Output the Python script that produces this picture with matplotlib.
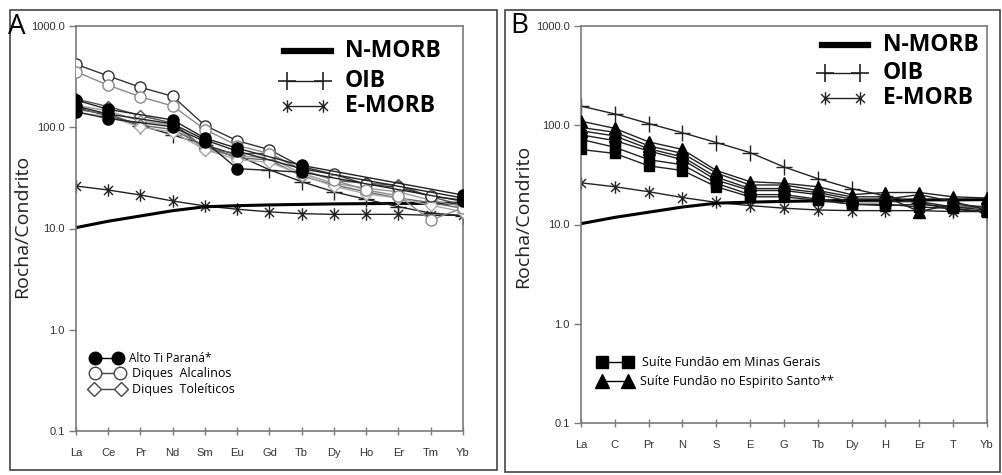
import numpy as np
import matplotlib
matplotlib.use("Agg")
import matplotlib.pyplot as plt
from matplotlib.path import Path
from matplotlib.patches import Rectangle
from matplotlib.lines import Line2D

# ---------------------------------------------------------------- data
ree_a = ["La", "Ce", "Pr", "Nd", "Sm", "Eu", "Gd", "Tb", "Dy", "Ho", "Er", "Tm", "Yb"]
ree_b = ["La", "C", "Pr", "N", "S", "E", "G", "Tb", "Dy", "H", "Er", "T", "Yb"]

n_morb = [10.2, 11.8, 13.3, 15.0, 16.4, 16.8, 17.1, 17.3, 17.5, 17.6, 17.7, 17.7, 17.8]
oib = [156, 130, 104, 84, 67, 53, 38, 29, 23, 19.4, 16.4, 14.2, 13.4]
e_morb = [26.3, 24.0, 21.4, 18.7, 16.7, 15.5, 14.6, 14.0, 13.8, 13.8, 13.8, 13.5, 13.5]

nan = np.nan
alto_ti_parana = [
    [186, 150, nan, 118, 78, 62, nan, 42, nan, nan, nan, nan, 21.4],
    [162, 135, nan, 108, 75, 58, nan, 39, nan, nan, nan, nan, 20.0],
    [142, 122, nan, 101, 72, 39, nan, 36, nan, nan, nan, nan, 18.6],
]
diques_alcalinos = [
    [419, 321, 248, 202, 104, 73.6, 60, 40.8, 34.3, 27.3, 25.5, 20.8, 19.1],
    [354, 260, 200, 162, 95, 66, 55, 38, 30, 24, 21, 12.1, 16.0],
]
diques_toleiticos = [
    [190, 160, 130, 110, 62, 55, 55, 38, 30, 27.9, 26.9, 20.6, 17.0],
    [165, 145, 115, 105, 60, 52, 50, 35, 28, 25, 23, 19, 16.5],
    [150, 135, 105, 95, 65, 50, 47.5, 33, 27, 23, 20, 18, 15.8],
    [140, 128, 100, 90, 60, 48, 45, 34, 26, 22, 19.9, 17, 14.6],
]

suite_minas_gerais = [
    [80, 70, 55, 45, 28, 22, 22, 20, 17, 17, 17, 15, 14],
    [72, 60, 45, 40, 26, 20, 20, 18, 16, 16, 15, 14.5, 13.5],
    [57, 52, 39, 35, 24, 19, 19, 17.5, 16, 15.5, 16, 15, 15],
]
suite_espirito_santo = [
    [110, 93, 68, 57, 35, 27, 26, 24, 20, 21, 21, 19, 18.5],
    [95, 85, 62, 52, 33, 25, 25, 22, 19, 19, 13.5, 16, 15],
    [88, 78, 58, 48, 30, 23, 23, 21, 18, 18, 20, 17, 14],
]

legend_main = ["N-MORB", "OIB", "E-MORB"]
legend_a = ["Alto Ti Paraná*", "Diques  Alcalinos", "Diques  Toleíticos"]
legend_b = ["Suíte Fundão em Minas Gerais", "Suíte Fundão no Espirito Santo**"]
y_ticks = [0.1, 1, 10, 100, 1000]

# ---------------------------------------------------------------- styles
W, H = 1003, 475
fig = plt.figure(figsize=(W / 100, H / 100), dpi=100)
fig.patch.set_facecolor("white")

SPINE = "#7a7a7a"
TXT = "#333333"
SANS = ["Open Sans", "DejaVu Sans"]
ARIAL = ["Liberation Sans", "DejaVu Sans"]

# asterisk-like star: an X crossed by a vertical bar
star = Path([(0, -1), (0, 1), (-0.72, -0.72), (0.72, 0.72), (-0.72, 0.72), (0.72, -0.72)],
            [Path.MOVETO, Path.LINETO, Path.MOVETO, Path.LINETO, Path.MOVETO, Path.LINETO])


def fx(x):
    return x / W


def fy(y):
    return 1 - y / H


def add_axes(left, top, right, bottom):
    return fig.add_axes([fx(left), fy(bottom), (right - left) / W, (bottom - top) / H])


def connected(ax, x, vals, **kw):
    v = np.asarray(vals, dtype=float)
    m = ~np.isnan(v)
    ax.plot(np.asarray(x)[m], v[m], **kw)


def style_axes(ax, labels):
    ax.set_yscale("log")
    ax.set_ylim(0.1, 1000)
    ax.set_xlim(0, len(labels) - 1)
    ax.set_yticks(y_ticks)
    ax.set_yticklabels([f"{t:.1f}" for t in y_ticks], fontsize=8, color=TXT, family=ARIAL)
    ax.yaxis.set_minor_locator(matplotlib.ticker.NullLocator())
    ax.set_xticks(range(len(labels)))
    ax.set_xticklabels(labels, fontsize=8, color=TXT, family=ARIAL)
    ax.tick_params(axis="y", direction="out", length=5, width=1, color=SPINE, pad=3)
    ax.tick_params(axis="x", direction="inout", length=6, width=1, color=SPINE, pad=9)
    for s in ax.spines.values():
        s.set_color(SPINE)
        s.set_linewidth(1.2)


def reference_curves(ax, x):
    ax.plot(x, e_morb, color="#222222", lw=1, marker=star, ms=9, mew=1, mec="#222222", zorder=2)
    ax.plot(x, n_morb, color="black", lw=2.2, zorder=2)
    ax.plot(x, oib, color="#222222", lw=1, marker="+", ms=11, mew=1, zorder=2)


def legend_row(x1, x2, y, text, tx, size, weight, **kw):
    fig.add_artist(Line2D([fx(x1), fx(x2)], [fy(y), fy(y)], transform=fig.transFigure, **kw))
    fig.text(fx(tx), fy(y), text, ha="left", va="center", fontsize=size,
             fontweight=weight, family=SANS, color="black")


# ---------------------------------------------------------------- panel A
axA = add_axes(76, 26, 463, 431)
xa = np.arange(len(ree_a))
reference_curves(axA, xa)
tol_colors = ["#555555", "#999999", "#666666", "#aaaaaa"]
for vals, c in zip(diques_toleiticos, tol_colors):
    connected(axA, xa, vals, color=c, lw=1, marker="D", ms=6, mfc="white", mec=c, mew=1, zorder=3)
for vals, c in zip(diques_alcalinos, ["#333333", "#8a8a8a"]):
    connected(axA, xa, vals, color=c, lw=1, marker="o", ms=8, mfc="white", mec=c, mew=1, zorder=3)
for vals in alto_ti_parana:
    connected(axA, xa, vals, color="#222222", lw=1, marker="o", ms=8, mfc="black", mec="black", zorder=4)
style_axes(axA, ree_a)

# ---------------------------------------------------------------- panel B
axB = add_axes(581, 26, 987, 423)
xb = np.arange(len(ree_b))
reference_curves(axB, xb)
for vals in suite_minas_gerais:
    connected(axB, xb, vals, color="#222222", lw=1, marker="s", ms=7, mfc="black", mec="black", zorder=3)
for vals in suite_espirito_santo:
    connected(axB, xb, vals, color="#222222", lw=1, marker="^", ms=8, mfc="black", mec="black", zorder=3)
style_axes(axB, ree_b)

# y-axis titles
fig.text(fx(22), fy(226), "Rocha/Condrito", rotation=90, fontsize=14, family=SANS,
         color="#222222", ha="center", va="center")
fig.text(fx(523), fy(216), "Rocha/Condrito", rotation=90, fontsize=14, family=SANS,
         color="#222222", ha="center", va="center")

# ---------------------------------------------------------------- legends
for (x1, x2, tx, ys) in [(284, 331, 345, (51, 81, 106)), (822, 868, 883, (45, 73, 98))]:
    legend_row(x1, x2, ys[0], legend_main[0], tx, 16.5, "bold", color="black", lw=4.5)
    legend_row(x1 + 3, x2 - 8, ys[1], legend_main[1], tx, 16.5, "bold", color="#222222", lw=1,
               marker="+", ms=13, mew=1.2)
    legend_row(x1 + 3, x2 - 8, ys[2], legend_main[2], tx, 16.5, "bold", color="#222222", lw=1,
               marker=star, ms=9, mew=1)

legend_row(95, 118, 358, legend_a[0], 129, 8.5, "normal", color="black", lw=1,
           marker="o", ms=9, mfc="black", mec="black")
legend_row(95, 120, 373, legend_a[1], 132, 9, "normal", color="#444444", lw=1,
           marker="o", ms=9, mfc="white", mec="#444444")
legend_row(94, 121, 389, legend_a[2], 132, 9, "normal", color="#444444", lw=1,
           marker="D", ms=7, mfc="white", mec="#444444")

legend_row(602, 628, 362, legend_b[0], 642, 9, "normal", color="black", lw=1,
           marker="s", ms=9, mfc="black", mec="black")
legend_row(602, 628, 381, legend_b[1], 640, 9, "normal", color="black", lw=1,
           marker="^", ms=10, mfc="black", mec="black")

# panel letters and frames
fig.text(fx(8), fy(27), "A", fontsize=20, family=SANS, va="center", ha="left")
fig.text(fx(510), fy(26), "B", fontsize=20, family=SANS, va="center", ha="left")
fig.add_artist(Rectangle((fx(10), fy(470)), 487 / W, 460 / H, transform=fig.transFigure,
                         fill=False, ec="#444444", lw=1.2))
fig.add_artist(Rectangle((fx(505), fy(472)), 495 / W, 462 / H, transform=fig.transFigure,
                         fill=False, ec="#444444", lw=1.2))

fig.savefig("out.png", dpi=100)
